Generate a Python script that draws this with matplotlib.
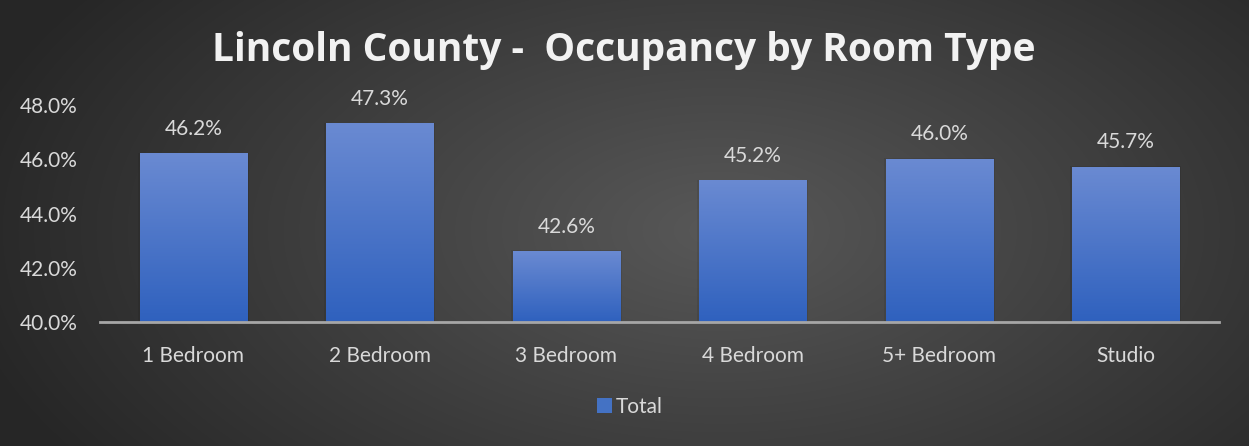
import numpy as np
import matplotlib
matplotlib.use("Agg")
import matplotlib.pyplot as plt
from matplotlib.colors import LinearSegmentedColormap
from matplotlib.patches import Patch

categories = ["1 Bedroom", "2 Bedroom", "3 Bedroom", "4 Bedroom", "5+ Bedroom", "Studio"]
values = [46.2, 47.3, 42.6, 45.2, 46.0, 45.7]
yticks = [40, 42, 44, 46, 48]
title = "Lincoln County -  Occupancy by Room Type"
legend_label = "Total"

plt.rcParams['font.family'] = ['Lato', 'DejaVu Sans']
W, H = 1249, 446
fig = plt.figure(figsize=(W / 100, H / 100), dpi=100)

# background radial gradient
bg = fig.add_axes([0, 0, 1, 1])
yy, xx = np.mgrid[0:H, 0:W]
cx, cy = 720, 230
r = np.sqrt(((xx - cx) / 780.0) ** 2 + ((yy - cy) / 420.0) ** 2)
r = np.clip(r, 0, 1)
inner = np.array([0x58, 0x58, 0x58]) / 255.0
outer = np.array([0x26, 0x26, 0x26]) / 255.0
img = inner[None, None, :] * (1 - r[..., None]) + outer[None, None, :] * r[..., None]
bg.imshow(img, extent=[0, W, H, 0], aspect='auto')
bg.set_axis_off()

ax = fig.add_axes([100 / W, 1 - 322 / H, 1119 / W, 217 / H])
ax.set_facecolor('none')
x = np.arange(len(categories))
bars = ax.bar(x, [v - 40 for v in values], bottom=40, width=0.575, color='none', zorder=3)
ax.set_xlim(-0.5, len(categories) - 0.5)
ax.set_ylim(40, 48)

cmap = LinearSegmentedColormap.from_list('b', ['#2f61be', '#6a8ad2'])
grad = np.linspace(0, 1, 256).reshape(-1, 1)
for b in bars:
    bx, by, bw, bh = b.get_x(), b.get_y(), b.get_width(), b.get_height()
    ax.add_patch(plt.Rectangle((bx - 0.01, by), bw + 0.02, bh + 0.04,
                               color='black', alpha=0.08, zorder=2, lw=0))
    ax.imshow(grad, cmap=cmap, extent=[bx, bx + bw, by, by + bh], origin='lower',
              aspect='auto', zorder=3)
for xi, v in zip(x, values):
    ax.text(xi, v + 0.55, f"{v:.1f}%", ha='center', va='bottom', color='#d9d9d9', fontsize=15)

ax.set_xticks(x)
ax.set_xticklabels(categories, color='#d9d9d9', fontsize=15)
ax.set_yticks(yticks)
ax.set_yticklabels([f"{t:.1f}%" for t in yticks], color='#d9d9d9', fontsize=15)
ax.tick_params(axis='both', length=0)
ax.tick_params(axis='x', pad=17)
ax.tick_params(axis='y', pad=16)
for s in ['top', 'right', 'left']:
    ax.spines[s].set_visible(False)
ax.spines['bottom'].set_color('#a6a6a6')
ax.spines['bottom'].set_linewidth(2)
ax.spines['bottom'].set_zorder(5)

fig.text(624 / W, 1 - 50 / H, title, ha='center', va='center', color='#f2f2f2',
         fontsize=28, fontweight='bold', family=['Open Sans', 'DejaVu Sans'])

handles = [Patch(facecolor='#4472c4', edgecolor='none')]
fig.legend(handles, [legend_label], loc='center', bbox_to_anchor=(630 / W, 1 - 407 / H),
           frameon=False, fontsize=15, handlelength=0.7, handleheight=0.7,
           handletextpad=0.2, labelcolor='#d9d9d9')

fig.savefig('out.png', dpi=100)
